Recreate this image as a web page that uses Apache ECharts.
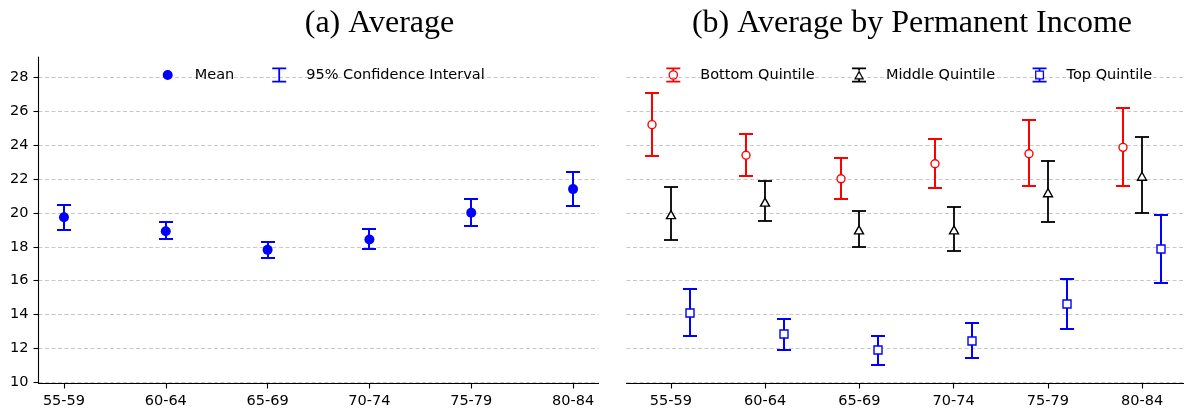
<!DOCTYPE html>
<html>
<head>
<meta charset="utf-8">
<script src="https://cdn.jsdelivr.net/npm/echarts@6/dist/echarts.min.js"></script>
<style>
  html, body { margin: 0; padding: 0; background: #fff; }
  #chart { width: 1184px; height: 412px; }
</style>
</head>
<body>
<div id="chart"></div>
<script>
// ---------- data ----------
const categories = ['55-59', '60-64', '65-69', '70-74', '75-79', '80-84'];
const yTicks = [10, 12, 14, 16, 18, 20, 22, 24, 26, 28];

const allMean = [19.75, 18.92, 17.82, 18.43, 20.01, 21.41];
const allLow  = [19.02, 18.45, 17.34, 17.86, 19.22, 20.44];
const allHigh = [20.50, 19.45, 18.29, 19.04, 20.80, 22.43];

const bottomMean = [25.22, 23.41, 22.02, 22.91, 23.50, 23.88];
const bottomLow  = [23.37, 22.16, 20.84, 21.45, 21.59, 21.57];
const bottomHigh = [27.11, 24.65, 23.23, 24.39, 25.47, 26.20];

const middleMean = [19.90, 20.64, 19.00, 19.00, 21.20, 22.17];
const middleLow  = [18.38, 19.52, 17.98, 17.76, 19.44, 19.97];
const middleHigh = [21.51, 21.87, 20.11, 20.37, 23.07, 24.49];

const topMean = [14.11, 12.83, 11.88, 12.46, 14.61, 17.86];
const topLow  = [12.73, 11.92, 11.04, 11.43, 13.17, 15.85];
const topHigh = [15.50, 13.74, 12.75, 13.49, 16.09, 19.88];

// ---------- helpers ----------
const FONT = 'DejaVu Sans';
const idx = categories.map((c, i) => i);
function rows(m, lo, hi) { return idx.map(i => [i, m[i], lo[i], hi[i]]); }

function errRenderer(offset, color, lw, marker) {
  return function (params, api) {
    const x = api.value(0) + offset;
    const pm = api.coord([x, api.value(1)]);
    const pl = api.coord([x, api.value(2)]);
    const ph = api.coord([x, api.value(3)]);
    const cx = Math.round(pm[0]);
    const yl = Math.round(pl[1]), yh = Math.round(ph[1]);
    const cap = 7;
    const st = { stroke: color, lineWidth: lw, fill: null };
    const ch = [
      { type: 'line', shape: { x1: cx, y1: yh, x2: cx, y2: yl }, style: st },
      { type: 'line', shape: { x1: cx - cap, y1: yh, x2: cx + cap, y2: yh }, style: st },
      { type: 'line', shape: { x1: cx - cap, y1: yl, x2: cx + cap, y2: yl }, style: st }
    ];
    const ms = { fill: '#fff', stroke: color, lineWidth: 1.4 };
    const cy = pm[1];
    if (marker === 'circle') {
      ch.push({ type: 'circle', shape: { cx: cx, cy: cy, r: 4 }, style: ms });
    } else if (marker === 'triangle') {
      ch.push({ type: 'polygon', shape: { points: [[cx, cy - 4], [cx + 4.5, cy + 4], [cx - 4.5, cy + 4]] }, style: ms });
    } else if (marker === 'square') {
      ch.push({ type: 'rect', shape: { x: cx - 4, y: Math.round(cy) - 4, width: 8, height: 8 }, style: ms });
    }
    return { type: 'group', children: ch };
  };
}

// legend icon paths (44 x 16 box)
const BOX = 'M0,0L0,0Z M44,16L44,16Z ';
const CAPS = 'M15,0.4 H29 V2.2 H15 Z M15,13.8 H29 V15.6 H15 Z ';
const iconMean = 'path://' + BOX + 'M27,8 A5,5 0 1,1 17,8 A5,5 0 1,1 27,8 Z';
const iconCI = 'path://' + BOX + CAPS + 'M21.1,2.2 H22.9 V13.8 H21.1 Z';
const iconCircle = 'path://' + BOX + CAPS +
  'M21.1,2.2 H22.9 V3.4 H21.1 Z M21.1,12.6 H22.9 V13.8 H21.1 Z ' +
  'M26.8,8 A4.8,4.8 0 1,1 17.2,8 A4.8,4.8 0 1,1 26.8,8 Z ' +
  'M25.5,8 A3.5,3.5 0 1,0 18.5,8 A3.5,3.5 0 1,0 25.5,8 Z';
const iconTri = 'path://' + BOX + CAPS +
  'M21.1,2.2 H22.9 V3.6 H21.1 Z M21.1,12.4 H22.9 V13.8 H21.1 Z ' +
  'M22,3.2 L27,12.4 L17,12.4 Z M22,5.9 L18.9,11.2 L25.1,11.2 Z';
const iconSq = 'path://' + BOX + CAPS +
  'M21.1,2.2 H22.9 V3.5 H21.1 Z M21.1,12.5 H22.9 V13.8 H21.1 Z ' +
  'M17.5,3.5 H26.5 V12.5 H17.5 Z M18.8,4.8 V11.2 H25.2 V4.8 Z';

const labelStyle = { fontFamily: FONT, fontSize: 14.5, color: '#000' };
const gridLine = { show: true, lineStyle: { color: '#c8c8c8', width: 1, type: [4, 2.5] } };

function xAxis(gi, min, max) {
  return {
    type: 'value', gridIndex: gi, min: min, max: max,
    axisLine: { show: true, onZero: false, lineStyle: { color: '#000', width: 1.1 } },
    axisTick: { show: true, length: 5, customValues: idx, lineStyle: { color: '#000', width: 1.1 } },
    axisLabel: Object.assign({ margin: 10, customValues: idx, formatter: v => categories[Math.round(v)] }, labelStyle),
    splitLine: { show: false }
  };
}
function yAxis(gi, showAxis) {
  return {
    type: 'value', gridIndex: gi, min: 9.92, max: 29.22,
    axisLine: { show: showAxis, onZero: false, lineStyle: { color: '#000', width: 1.1 } },
    axisTick: { show: showAxis, length: 5, customValues: yTicks, lineStyle: { color: '#000', width: 1.1 } },
    axisLabel: Object.assign({ show: showAxis, margin: 10, customValues: yTicks }, labelStyle),
    splitLine: gridLine
  };
}

const chart = echarts.init(document.getElementById('chart'), null, { renderer: 'canvas' });
chart.setOption({
  animation: false,
  backgroundColor: '#fff',
  title: [
    { text: '(a) Average', left: 379.5, top: 8, textAlign: 'center', padding: 0,
      textStyle: { fontFamily: 'Liberation Serif', fontSize: 32, fontWeight: 'normal', color: '#000' } },
    { text: '(b) Average by Permanent Income', left: 912, top: 8, textAlign: 'center', padding: 0,
      textStyle: { fontFamily: 'Liberation Serif', fontSize: 32, fontWeight: 'normal', color: '#000' } }
  ],
  legend: [
    { left: 145.7, top: 67, padding: 0, itemWidth: 44, itemHeight: 16, itemGap: 23, selectedMode: false,
      textStyle: labelStyle,
      data: [
        { name: 'Mean', icon: iconMean, itemStyle: { color: '#0000ff', borderWidth: 0, opacity: 1 } },
        { name: '95% Confidence Interval', icon: iconCI, itemStyle: { color: '#0000ff', borderWidth: 0, opacity: 1 } }
      ] },
    { left: 651.3, top: 67, padding: 0, itemWidth: 44, itemHeight: 16, itemGap: 22.5, selectedMode: false,
      textStyle: labelStyle,
      data: [
        { name: 'Bottom Quintile', icon: iconCircle, itemStyle: { color: '#ff0000', borderWidth: 0, opacity: 1 } },
        { name: 'Middle Quintile', icon: iconTri, itemStyle: { color: '#000000', borderWidth: 0, opacity: 1 } },
        { name: 'Top Quintile', icon: iconSq, itemStyle: { color: '#0000ff', borderWidth: 0, opacity: 1 } }
      ] }
  ],
  grid: [
    { left: 38.5, top: 57, width: 560, height: 326.5, outerBoundsMode: 'none', containLabel: false },
    { left: 626.5, top: 57, width: 560, height: 326.5, outerBoundsMode: 'none', containLabel: false }
  ],
  xAxis: [xAxis(0, -0.25, 5.25), xAxis(1, -0.47, 5.47)],
  yAxis: [yAxis(0, true), yAxis(1, false)],
  series: [
    { name: '95% Confidence Interval', type: 'custom', xAxisIndex: 0, yAxisIndex: 0, silent: true,
      itemStyle: { color: '#0000ff' }, data: rows(allMean, allLow, allHigh),
      renderItem: errRenderer(0, '#0000ff', 2, null), z: 3 },
    { name: 'Mean', type: 'scatter', xAxisIndex: 0, yAxisIndex: 0, silent: true, symbol: 'circle', symbolSize: 10,
      itemStyle: { color: '#0000ff', opacity: 1 }, data: idx.map(i => [i, allMean[i]]), z: 4 },
    { name: 'Bottom Quintile', type: 'custom', xAxisIndex: 1, yAxisIndex: 1, silent: true,
      itemStyle: { color: '#ff0000' }, data: rows(bottomMean, bottomLow, bottomHigh),
      renderItem: errRenderer(-0.2, '#ff0000', 2, 'circle'), z: 3 },
    { name: 'Middle Quintile', type: 'custom', xAxisIndex: 1, yAxisIndex: 1, silent: true,
      itemStyle: { color: '#000000' }, data: rows(middleMean, middleLow, middleHigh),
      renderItem: errRenderer(0, '#000000', 1.8, 'triangle'), z: 3 },
    { name: 'Top Quintile', type: 'custom', xAxisIndex: 1, yAxisIndex: 1, silent: true,
      itemStyle: { color: '#0000ff' }, data: rows(topMean, topLow, topHigh),
      renderItem: errRenderer(0.2, '#0000ff', 2, 'square'), z: 3 }
  ]
});
</script>
</body>
</html>
